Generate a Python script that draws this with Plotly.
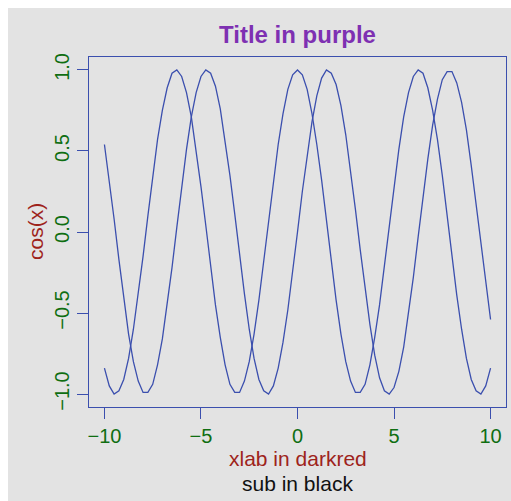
import plotly.graph_objects as go

# Values (two curves on x from -10 to 10, step 0.25)
x_values = [-10, -9.75, -9.5, -9.25, -9, -8.75, -8.5, -8.25, -8, -7.75, -7.5, -7.25,
            -7, -6.75, -6.5, -6.25, -6, -5.75, -5.5, -5.25, -5, -4.75, -4.5, -4.25,
            -4, -3.75, -3.5, -3.25, -3, -2.75, -2.5, -2.25, -2, -1.75, -1.5, -1.25,
            -1, -0.75, -0.5, -0.25, 0, 0.25, 0.5, 0.75, 1, 1.25, 1.5, 1.75, 2, 2.25,
            2.5, 2.75, 3, 3.25, 3.5, 3.75, 4, 4.25, 4.5, 4.75, 5, 5.25, 5.5, 5.75,
            6, 6.25, 6.5, 6.75, 7, 7.25, 7.5, 7.75, 8, 8.25, 8.5, 8.75, 9, 9.25,
            9.5, 9.75, 10]
cos_values = [-0.84, -0.95, -1.00, -0.98, -0.91, -0.78, -0.60, -0.39, -0.15, 0.10,
              0.35, 0.57, 0.75, 0.89, 0.98, 1.00, 0.96, 0.86, 0.71, 0.51, 0.28, 0.04,
              -0.21, -0.45, -0.65, -0.82, -0.94, -0.99, -0.99, -0.92, -0.80, -0.63,
              -0.42, -0.18, 0.07, 0.32, 0.54, 0.73, 0.88, 0.97, 1.00, 0.97, 0.88,
              0.73, 0.54, 0.32, 0.07, -0.18, -0.42, -0.63, -0.80, -0.92, -0.99,
              -0.99, -0.94, -0.82, -0.65, -0.45, -0.21, 0.04, 0.28, 0.51, 0.71, 0.86,
              0.96, 1.00, 0.98, 0.89, 0.75, 0.57, 0.35, 0.10, -0.15, -0.39, -0.60,
              -0.78, -0.91, -0.98, -1.00, -0.95, -0.84]
sin_values = [0.54, 0.32, 0.08, -0.17, -0.41, -0.63, -0.80, -0.92, -0.99, -0.99,
              -0.94, -0.82, -0.66, -0.45, -0.22, 0.03, 0.28, 0.51, 0.71, 0.86, 0.96,
              1.00, 0.98, 0.90, 0.76, 0.57, 0.35, 0.11, -0.14, -0.38, -0.60, -0.78,
              -0.91, -0.98, -1.00, -0.95, -0.84, -0.68, -0.48, -0.25, 0.00, 0.25,
              0.48, 0.68, 0.84, 0.95, 1.00, 0.98, 0.91, 0.78, 0.60, 0.38, 0.14,
              -0.11, -0.35, -0.57, -0.76, -0.90, -0.98, -1.00, -0.96, -0.86, -0.71,
              -0.51, -0.28, -0.03, 0.22, 0.45, 0.66, 0.82, 0.94, 0.99, 0.99, 0.92,
              0.80, 0.63, 0.41, 0.17, -0.08, -0.32, -0.54]
x_ticks = [-10, -5, 0, 5, 10]
x_tick_labels = ["\u221210", "\u22125", "0", "5", "10"]
y_ticks = [-1.0, -0.5, 0.0, 0.5, 1.0]
y_tick_labels = ["\u22121.0", "\u22120.5", "0.0", "0.5", "1.0"]

W, H = 503, 493
L, R, T, B = 81, 5, 49, 94
pw, ph = W - L - R, H - T - B

LINE = "#3b4fae"
GREEN = "#0f6e12"
RED = "#9e231b"
FONT = "Liberation Sans, Arial, sans-serif"
BG = "#e3e3e3"

fig = go.Figure()
for ys in (cos_values, sin_values):
    fig.add_trace(go.Scatter(x=x_values, y=ys, mode="lines",
                             line=dict(color=LINE, width=1.3),
                             showlegend=False, hoverinfo="skip"))

axis_common = dict(showgrid=False, zeroline=False, showline=True, linecolor=LINE,
                   linewidth=1.3, mirror=True, ticks="outside", ticklen=11,
                   tickcolor=LINE, tickwidth=1.3,
                   tickfont=dict(family=FONT, size=20, color=GREEN))

fig.update_xaxes(range=[-10.8, 10.8], tickvals=x_ticks, ticktext=x_tick_labels,
                 **axis_common)
fig.update_yaxes(range=[-1.08, 1.08], tickvals=y_ticks, ticktext=y_tick_labels,
                 tickangle=-90, **axis_common)

fig.add_annotation(text="xlab in darkred", xref="paper", yref="paper",
                   x=0.5, y=-(450 - (T + ph)) / ph, showarrow=False,
                   xanchor="center", yanchor="middle",
                   font=dict(family=FONT, size=21, color=RED))
fig.add_annotation(text="sub in black", xref="paper", yref="paper",
                   x=0.5, y=-(475 - (T + ph)) / ph, showarrow=False,
                   xanchor="center", yanchor="middle",
                   font=dict(family=FONT, size=21, color="#111111"))
fig.add_annotation(text="cos(x)", xref="paper", yref="paper",
                   x=-(L - 27) / pw, y=(T + ph - 224) / ph, showarrow=False,
                   textangle=-90, xanchor="center", yanchor="middle",
                   font=dict(family=FONT, size=21, color=RED))

fig.update_layout(
    width=W, height=H,
    margin=dict(l=L, r=R, t=T, b=B),
    paper_bgcolor=BG, plot_bgcolor=BG,
    title=dict(text="<b>Title in purple</b>", x=(L + pw / 2) / W, xanchor="center",
               y=1 - 27 / H, yanchor="middle", yref="container",
               font=dict(family=FONT, size=24, color="#7e30b2")),
)

fig.write_html("out.html",
               post_script="document.documentElement.style.overflow='hidden';"
                           "document.body.style.overflow='hidden';"
                           "document.body.style.margin='8px 0 0 8px';")
